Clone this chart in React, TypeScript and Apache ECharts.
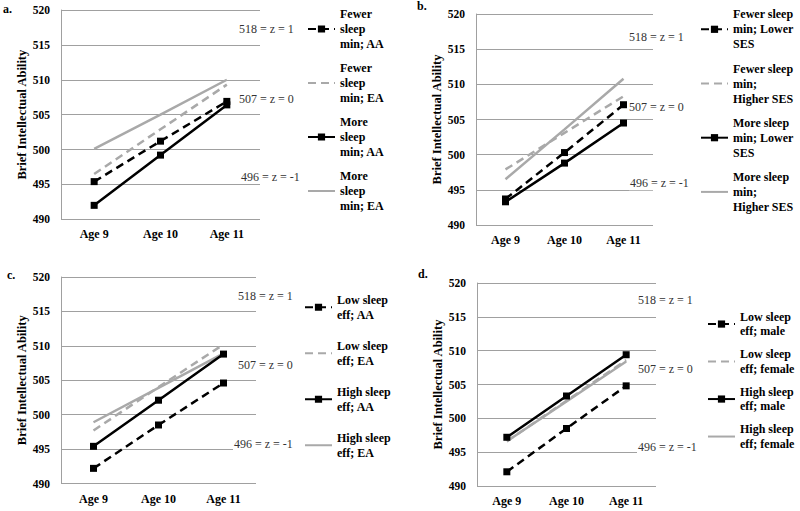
import React, { useEffect, useRef } from "react";
import * as echarts from "echarts";

const FONT = "Liberation Serif, Times New Roman, serif";

const ages = ["Age 9", "Age 10", "Age 11"];
const yTicks = { min: 490, max: 520, interval: 5 };
const yTitle = "Brief Intellectual Ability";

// Panel a
const aNames = ["Fewer\nsleep\nmin; AA", "Fewer\nsleep\nmin; EA", "More\nsleep\nmin; AA", "More\nsleep\nmin; EA"];
const aFewerAA = [495.4, 501.2, 506.9];
const aFewerEA = [496.5, 502.9, 509.3];
const aMoreAA = [492.0, 499.2, 506.4];
const aMoreEA = [500.1, 505.0, 510.0];

// Panel b
const bNames = ["Fewer sleep\nmin; Lower\nSES", "Fewer sleep\nmin;\nHigher SES", "More sleep\nmin; Lower\nSES", "More sleep\nmin;\nHigher SES"];
const bFewerLow = [493.7, 500.3, 507.1];
const bFewerHigh = [497.9, 503.1, 508.3];
const bMoreLow = [493.3, 498.8, 504.5];
const bMoreHigh = [496.5, 503.6, 510.8];

// Panel c
const cNames = ["Low sleep\neff; AA", "Low sleep\neff; EA", "High sleep\neff; AA", "High sleep\neff; EA"];
const cLowAA = [492.2, 498.5, 504.6];
const cLowEA = [497.7, 504.0, 510.2];
const cHighAA = [495.4, 502.1, 508.8];
const cHighEA = [498.9, 503.9, 508.9];

// Panel d
const dNames = ["Low sleep\neff; male", "Low sleep\neff; female", "High sleep\neff; male", "High sleep\neff; female"];
const dLowMale = [492.1, 498.5, 504.8];
const dLowFemale = [496.6, 502.6, 508.6];
const dHighMale = [497.2, 503.3, 509.4];
const dHighFemale = [496.6, 502.5, 508.4];

const zLabels = ["518 = z = 1", "507 = z = 0", "496 = z = -1"];
const panelLabels = ["a.", "b.", "c.", "d."];

const panels = [
  {
    names: aNames, data: [aFewerAA, aFewerEA, aMoreAA, aMoreEA],
    grid: { left: 61, top: 10, width: 199, height: 209.3 },
    legend: { left: 307, top: -8.5, gap: -21, lh: 15, lines: 3 },
    nameGap: 32,
    label: { x: 3, y: 10 },
    annos: [[238, 29], [238, 98.7], [240, 176.7]],
  },
  {
    names: bNames, data: [bFewerLow, bFewerHigh, bMoreLow, bMoreHigh],
    grid: { left: 476, top: 14, width: 177, height: 211 },
    legend: { left: 700, top: -8.2, gap: -20.8, lh: 15, lines: 3 },
    nameGap: 32,
    label: { x: 417, y: 7 },
    annos: [[628, 36.7], [628, 107.3], [629, 183.3]],
  },
  {
    names: cNames, data: [cLowAA, cLowEA, cHighAA, cHighEA],
    grid: { left: 61, top: 277, width: 195, height: 206.5 },
    legend: { left: 304, top: 285.5, gap: 2.5, lh: 14.5, lines: 2 },
    nameGap: 31,
    label: { x: 7, y: 276 },
    annos: [[237, 296], [237, 365], [233, 444.3]],
  },
  {
    names: dNames, data: [dLowMale, dLowFemale, dHighMale, dHighFemale],
    grid: { left: 477, top: 283, width: 179, height: 203 },
    legend: { left: 707, top: 302.3, gap: -6, lh: 14.5, lines: 2 },
    nameGap: 33,
    label: { x: 418, y: 275 },
    annos: [[637, 300], [637, 369], [637, 446.7]],
  },
];

const BLACK = "#000000";
const GREY = "#a9a9a9";
const GRID = "#a0a0a0";
const styles = [
  { color: BLACK, dashed: true, marker: true },
  { color: GREY, dashed: true, marker: false },
  { color: BLACK, dashed: false, marker: true },
  { color: GREY, dashed: false, marker: false },
];

function buildOption() {
  const grid: any[] = [];
  const xAxis: any[] = [];
  const yAxis: any[] = [];
  const series: any[] = [];
  const legend: any[] = [];
  const graphic: any[] = [];

  panels.forEach((p, i) => {
    grid.push({ ...p.grid });
    xAxis.push({
      type: "category",
      gridIndex: i,
      data: ages,
      boundaryGap: true,
      axisLine: { show: false },
      axisTick: { show: false },
      axisLabel: { color: "#000", fontFamily: FONT, fontWeight: "bold", fontSize: 12, margin: 9 },
    });
    yAxis.push({
      type: "value",
      gridIndex: i,
      min: yTicks.min,
      max: yTicks.max,
      interval: yTicks.interval,
      name: yTitle,
      nameLocation: "middle",
      nameGap: p.nameGap,
      nameTextStyle: { color: "#000", fontFamily: FONT, fontWeight: "bold", fontSize: 12.5 },
      axisLine: { show: true, lineStyle: { color: GRID, width: 1 } },
      axisTick: { show: false },
      splitLine: { show: true, lineStyle: { color: GRID, width: 1 } },
      axisLabel: { color: "#000", fontFamily: FONT, fontWeight: "bold", fontSize: 11.5, margin: 11 },
    });
    p.names.forEach((name, k) => {
      const st = styles[k];
      series.push({
        type: "line",
        name,
        xAxisIndex: i,
        yAxisIndex: i,
        data: p.data[k],
        z: st.marker ? 4 : 3,
        symbol: st.marker ? "rect" : "none",
        symbolSize: 7,
        showSymbol: st.marker,
        itemStyle: { color: st.marker ? st.color : "rgba(0,0,0,0)" },
        lineStyle: { color: st.color, width: 2.5, type: st.dashed ? [8, 5] : "solid", cap: "butt" },
        emphasis: { disabled: true },
      });
    });
    legend.push({
      orient: "vertical",
      left: p.legend.left,
      top: p.legend.top,
      padding: 0,
      itemGap: p.legend.gap,
      itemWidth: 27,
      itemHeight: 9,
      selectedMode: false,
      data: p.names,
      textStyle: {
        color: "#000",
        fontFamily: FONT,
        fontWeight: "bold",
        fontSize: 12,
        lineHeight: p.legend.lh,
        padding: [(p.legend.lines - 1) * p.legend.lh, 0, 0, 0],
      },
    });
    graphic.push({
      type: "text",
      left: p.label.x,
      top: p.label.y - 7,
      style: { text: panelLabels[i], fontFamily: FONT, fontWeight: "bold", fontSize: 12, fill: "#000" },
    });
    p.annos.forEach((pos, j) => {
      graphic.push({
        type: "text",
        z: 1,
        x: pos[0],
        y: pos[1],
        style: {
          text: zLabels[j],
          fontFamily: FONT,
          fontSize: 12,
          fill: "#333333",
          verticalAlign: "middle",
          align: "left",
          backgroundColor: "#ffffff",
          padding: [1, 1, 1, 1],
        },
      });
    });
  });

  return { animation: false, backgroundColor: "#fff", grid, xAxis, yAxis, series, legend, graphic };
}

export default function App() {
  const ref = useRef<HTMLDivElement>(null);
  useEffect(() => {
    if (!ref.current) return;
    const chart = echarts.init(ref.current, undefined, { renderer: "svg" });
    chart.setOption(buildOption() as any);
    return () => chart.dispose();
  }, []);
  return <div ref={ref} style={{ position: "absolute", left: 0, top: 0, width: 800, height: 511 }} />;
}
